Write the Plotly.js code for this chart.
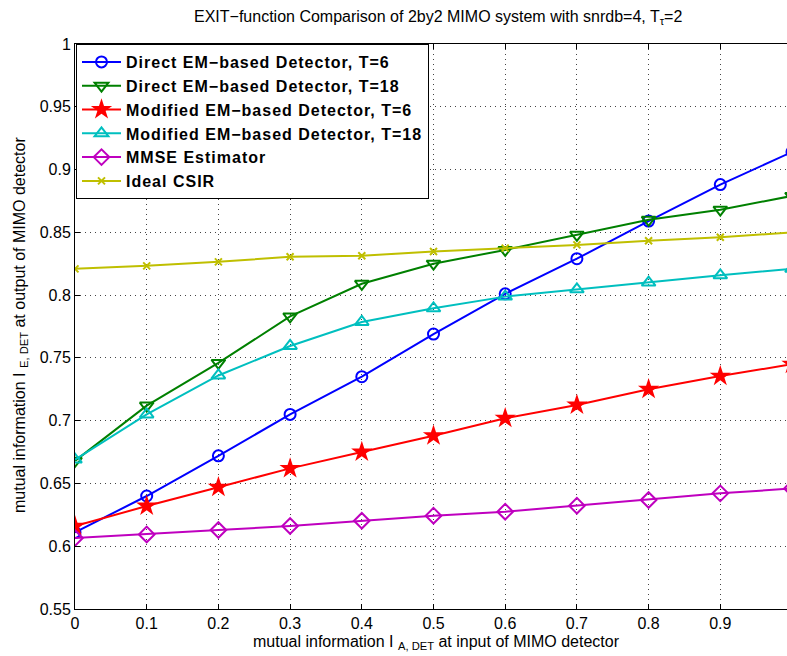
<!DOCTYPE html>
<html>
<head>
<meta charset="utf-8">
<script src="https://cdn.plot.ly/plotly-3.0.1.min.js"></script>
<style>html,body{margin:0;padding:0;background:#fff;}#chart{width:787px;height:656px;}
.legendtext{letter-spacing:1px;}</style>
</head>
<body>
<div id="chart"></div>
<script>
var xValues = [0, 0.1, 0.2, 0.3, 0.4, 0.5, 0.6, 0.7, 0.8, 0.9, 1.0];
var directT6 = [0.611, 0.640, 0.672, 0.705, 0.735, 0.769, 0.801, 0.829, 0.859, 0.888, 0.914];
var directT18 = [0.668, 0.712, 0.746, 0.783, 0.809, 0.825, 0.836, 0.848, 0.860, 0.868, 0.879];
var modifiedT6 = [0.616, 0.632, 0.647, 0.662, 0.675, 0.688, 0.702, 0.7125, 0.725, 0.7355, 0.745];
var modifiedT18 = [0.669, 0.705, 0.736, 0.7595, 0.7786, 0.7895, 0.7988, 0.8046, 0.810, 0.8158, 0.821];
var mmse = [0.6065, 0.6094, 0.6129, 0.6161, 0.6203, 0.6243, 0.6275, 0.6323, 0.6368, 0.6421, 0.646];
var idealCSIR = [0.8209, 0.8233, 0.8265, 0.8305, 0.8313, 0.8348, 0.8374, 0.8400, 0.8433, 0.8461, 0.850];
var seriesNames = ["Direct EM\u2212based Detector, T=6", "Direct EM\u2212based Detector, T=18",
  "Modified EM\u2212based Detector, T=6", "Modified EM\u2212based Detector, T=18",
  "MMSE Estimator", "Ideal CSIR"];
var yTicks = [0.55, 0.6, 0.65, 0.7, 0.75, 0.8, 0.85, 0.9, 0.95, 1];
var xTicks = [0, 0.1, 0.2, 0.3, 0.4, 0.5, 0.6, 0.7, 0.8, 0.9];

var W = 787, H = 656, L = 75, R = 0, T = 44, B = 47;
var pw = W - L - R, ph = H - T - B;
function px(x){ return (x - L) / pw; }
function py(y){ return (H - B - y) / ph; }

function mk(y, name, color, symbol, size, lw){
  return {x: xValues, y: y, name: name, type: 'scatter', mode: 'lines+markers',
    line: {color: color, width: 2},
    marker: {symbol: symbol, size: size, color: color, line: {color: color, width: lw}}};
}
var data = [
  mk(directT6, seriesNames[0], '#0000ff', 'circle-open', 11, 2),
  mk(directT18, seriesNames[1], '#008000', 'triangle-down-open', 12, 2),
  mk(modifiedT6, seriesNames[2], '#ff0000', 'star', 16, 0),
  mk(modifiedT18, seriesNames[3], '#00bfbf', 'triangle-up-open', 12, 2),
  mk(mmse, seriesNames[4], '#bf00bf', 'diamond-open', 12, 2),
  mk(idealCSIR, seriesNames[5], '#bfbf00', 'x-thin', 7, 2)
];
var font = 'Liberation Sans, Arial, Helvetica, sans-serif';
var layout = {
  width: W, height: H,
  margin: {l: L, r: R, t: T, b: B, pad: 0},
  paper_bgcolor: '#fff', plot_bgcolor: '#fff',
  font: {family: font, size: 16, color: '#000'},
  showlegend: true,
  legend: {x: px(76), y: 1, xanchor: 'left', yanchor: 'top', bgcolor: '#fff',
    bordercolor: '#000', borderwidth: 1, itemwidth: 39,
    font: {family: font, size: 16, color: '#000', weight: 'bold'},
    tracegroupgap: 0},
  xaxis: {range: [0, pw / 717], tickmode: 'array', tickvals: xTicks, ticktext: xTicks.map(String),
    showgrid: true, gridcolor: '#444', griddash: '1px,4px', gridwidth: 1,
    zeroline: false, showline: true, linecolor: '#000', linewidth: 1, mirror: 'ticks',
    ticks: 'inside', ticklen: 5, tickcolor: '#000', tickfont: {size: 16, family: font, color: '#000'}},
  yaxis: {range: [0.55, 1], tickmode: 'array', tickvals: yTicks, ticktext: yTicks.map(String),
    showgrid: true, gridcolor: '#444', griddash: '1px,4px', gridwidth: 1,
    zeroline: false, showline: true, linecolor: '#000', linewidth: 1, mirror: false,
    ticks: 'inside', ticklen: 5, tickcolor: '#000', tickfont: {size: 16, family: font, color: '#000'}},
  annotations: [
    {text: 'EXIT\u2212function Comparison of 2by2 MIMO system with snrdb=4, T<sub>\u03c4</sub>=2',
     xref: 'paper', yref: 'paper', x: px(438), y: py(17), xanchor: 'center', yanchor: 'middle',
     showarrow: false, font: {size: 16, family: font, color: '#000'}},
    {text: 'mutual information I <sub>A, DET</sub> at input of MIMO detector',
     xref: 'paper', yref: 'paper', x: px(436), y: py(642), xanchor: 'center', yanchor: 'middle',
     showarrow: false, font: {size: 16, family: font, color: '#000'}},
    {text: 'mutual information I <sub>E, DET</sub> at output of MIMO detector',
     xref: 'paper', yref: 'paper', x: px(20), y: py(325), xanchor: 'center', yanchor: 'middle',
     textangle: -90, showarrow: false, font: {size: 16, family: font, color: '#000'}}
  ]
};
Plotly.newPlot('chart', data, layout, {displayModeBar: false, staticPlot: true});
</script>
</body>
</html>
